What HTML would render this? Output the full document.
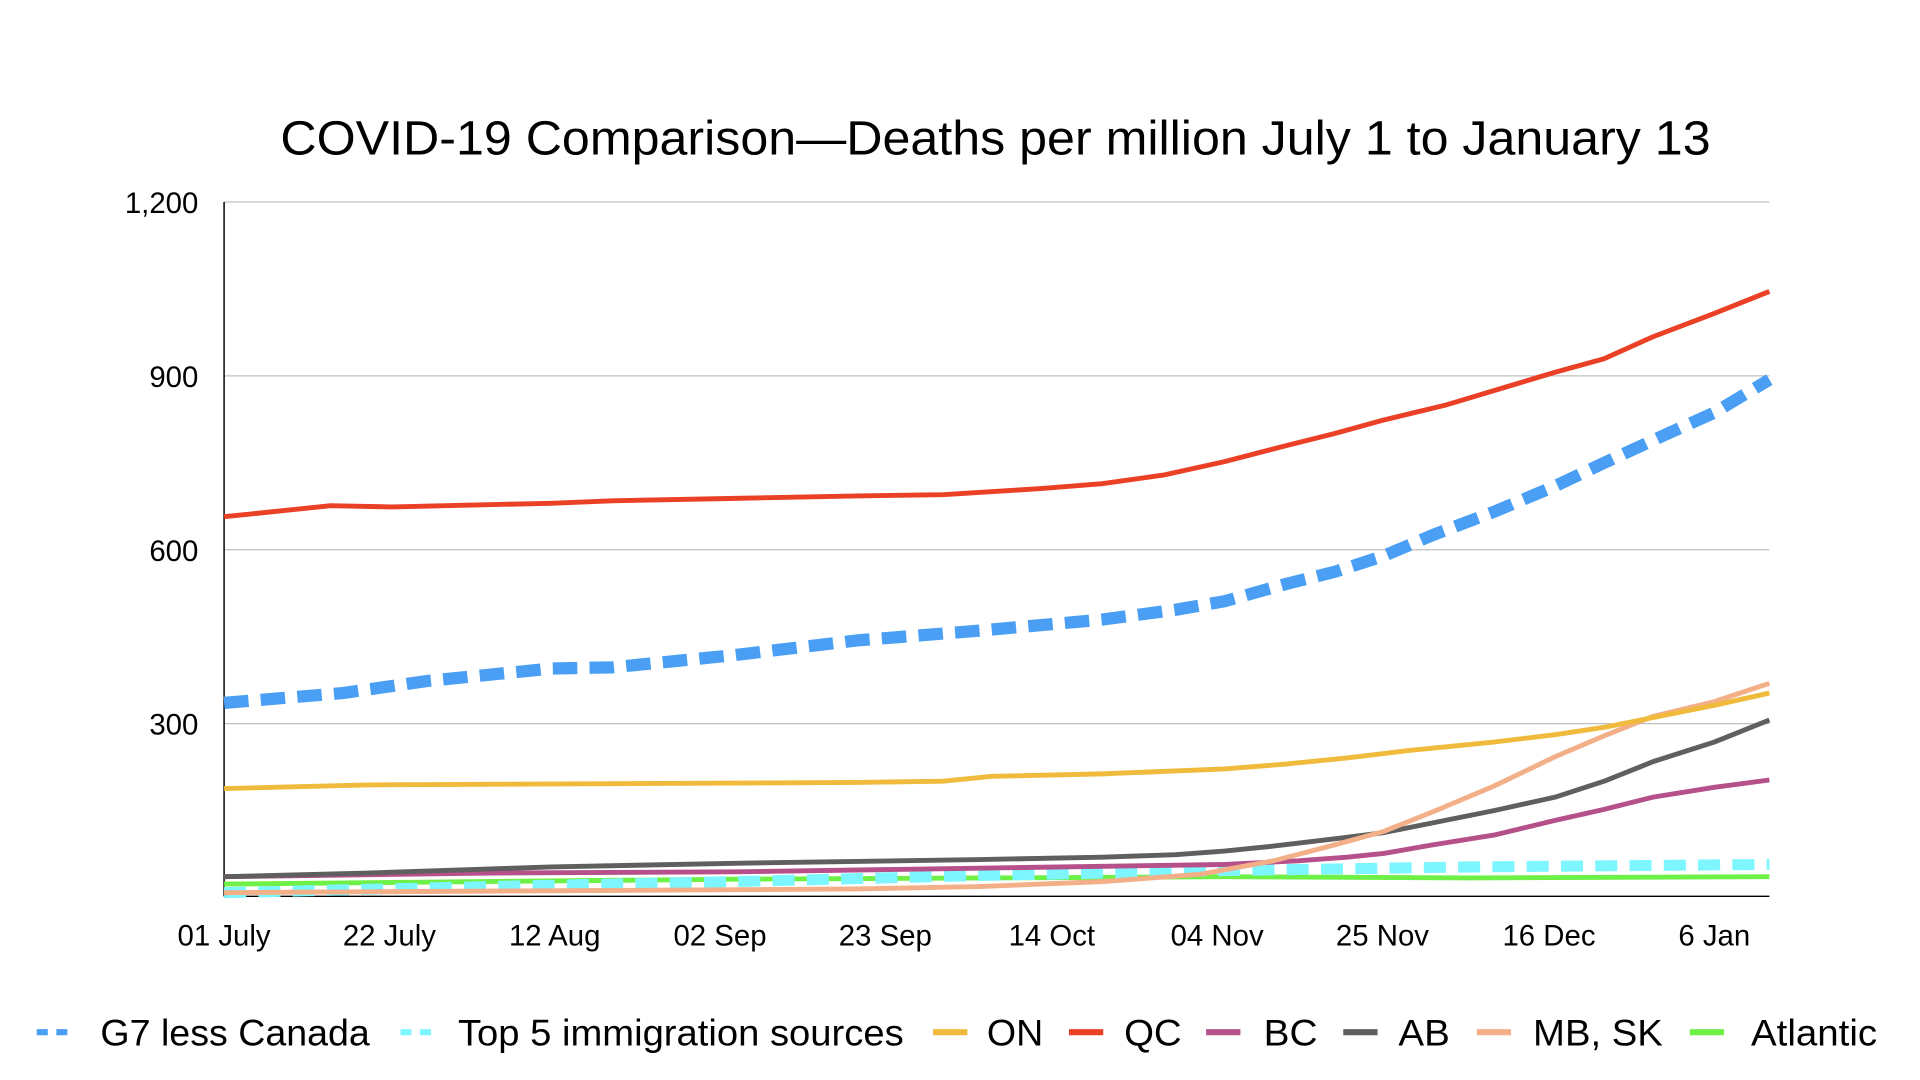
<!DOCTYPE html>
<html><head><meta charset="utf-8"><style>
html,body{margin:0;padding:0;background:#fff;}
svg{display:block;}
text{font-family:"Liberation Sans",sans-serif;fill:#000;}
</style></head><body>
<svg width="1920" height="1080" viewBox="0 0 1568 882" preserveAspectRatio="none">
<rect width="1568" height="882" fill="#fff"/>
<text x="813" y="126" font-size="39" text-anchor="middle" textLength="1168" lengthAdjust="spacingAndGlyphs">COVID-19 Comparison—Deaths per million July 1 to January 13</text>
<g stroke="#c0c0c0" stroke-width="1">
<line x1="183" y1="165" x2="1445" y2="165"/>
<line x1="183" y1="307" x2="1445" y2="307"/>
<line x1="183" y1="449" x2="1445" y2="449"/>
<line x1="183" y1="591" x2="1445" y2="591"/>
</g>
<line x1="183" y1="165" x2="183" y2="732" stroke="#000" stroke-width="1.2"/>
<line x1="183" y1="732" x2="1445" y2="732" stroke="#000" stroke-width="1.2"/>
<g font-size="24" text-anchor="end">
<text x="162" y="174">1,200</text>
<text x="162" y="316">900</text>
<text x="162" y="458">600</text>
<text x="162" y="600">300</text>
</g>
<g font-size="24" text-anchor="middle">
<text x="183" y="772">01 July</text>
<text x="318" y="772">22 July</text>
<text x="453" y="772">12 Aug</text>
<text x="588" y="772">02 Sep</text>
<text x="723" y="772">23 Sep</text>
<text x="859" y="772">14 Oct</text>
<text x="994" y="772">04 Nov</text>
<text x="1129" y="772">25 Nov</text>
<text x="1265" y="772">16 Dec</text>
<text x="1400" y="772">6 Jan</text>
</g>
<g fill="none" stroke-linejoin="round">
<polyline stroke="#6ef046" stroke-width="4" points="183,722 600,718 800,717 1000,716 1200,717 1445,716"/>
<polyline stroke="#7ef6ff" stroke-width="9" stroke-dasharray="18,10" points="183,729 400,724 600,720 800,715 1000,711 1200,708 1445,706"/>
<polyline stroke="#b5508a" stroke-width="4" points="183,716 400,713 600,712 800,709 1000,706 1060,703 1100,700 1130,697 1170,690 1220,682 1270,670 1310,661 1350,651 1400,643 1445,637"/>
<polyline stroke="#5f5f5f" stroke-width="4" points="183,716 300,713 450,708 600,705 800,702 900,700 960,698 1000,695 1040,691 1090,685 1130,680 1170,672 1220,662 1270,651 1310,638 1350,622 1400,606 1445,588"/>
<polyline stroke="#f3b088" stroke-width="4" points="183,729 700,726 800,724 900,720 980,714 1040,703 1090,690 1130,679 1170,663 1220,642 1270,618 1310,601 1350,585 1400,573 1445,558"/>
<polyline stroke="#f0bb3c" stroke-width="4" points="183,644 300,641 500,640 700,639 770,638 810,634 900,632 1000,628 1050,624 1100,619 1150,613 1220,606 1270,600 1310,594 1360,584 1400,576 1445,566"/>
<polyline stroke="#4a9ff5" stroke-width="10" stroke-dasharray="20,10" points="183,574 280,566 350,556 450,546 500,545 600,535 700,523 800,515 900,506 960,498 1000,491 1050,477 1090,467 1130,454 1170,437 1220,418 1270,397 1310,378 1360,355 1400,337 1445,310"/>
<polyline stroke="#ea4025" stroke-width="4" points="183,422 270,413 320,414 450,411 500,409 600,407 700,405 770,404 850,399 900,395 950,388 1000,377 1050,364 1090,354 1130,343 1180,331 1220,319 1270,304 1310,293 1350,275 1400,256 1445,238"/>
</g>
<g stroke-width="5">
<line x1="30" y1="843" x2="60" y2="843" stroke="#4a9ff5" stroke-dasharray="9,7"/>
<line x1="327" y1="843" x2="355" y2="843" stroke="#7ef6ff" stroke-dasharray="9,7"/>
<line x1="762" y1="843" x2="790" y2="843" stroke="#f0bb3c"/>
<line x1="873" y1="843" x2="901" y2="843" stroke="#ea4025"/>
<line x1="985" y1="843" x2="1013" y2="843" stroke="#b5508a"/>
<line x1="1097" y1="843" x2="1125" y2="843" stroke="#5f5f5f"/>
<line x1="1206" y1="843" x2="1234" y2="843" stroke="#f3b088"/>
<line x1="1380" y1="843" x2="1408" y2="843" stroke="#6ef046"/>
</g>
<g font-size="30">
<text x="82" y="854" textLength="220" lengthAdjust="spacingAndGlyphs">G7 less Canada</text>
<text x="374" y="854" textLength="364" lengthAdjust="spacingAndGlyphs">Top 5 immigration sources</text>
<text x="806" y="854" textLength="46" lengthAdjust="spacingAndGlyphs">ON</text>
<text x="918" y="854" textLength="47" lengthAdjust="spacingAndGlyphs">QC</text>
<text x="1032" y="854" textLength="44" lengthAdjust="spacingAndGlyphs">BC</text>
<text x="1142" y="854" textLength="42" lengthAdjust="spacingAndGlyphs">AB</text>
<text x="1252" y="854" textLength="106" lengthAdjust="spacingAndGlyphs">MB, SK</text>
<text x="1430" y="854" textLength="103" lengthAdjust="spacingAndGlyphs">Atlantic</text>
</g>
</svg>
</body></html>
